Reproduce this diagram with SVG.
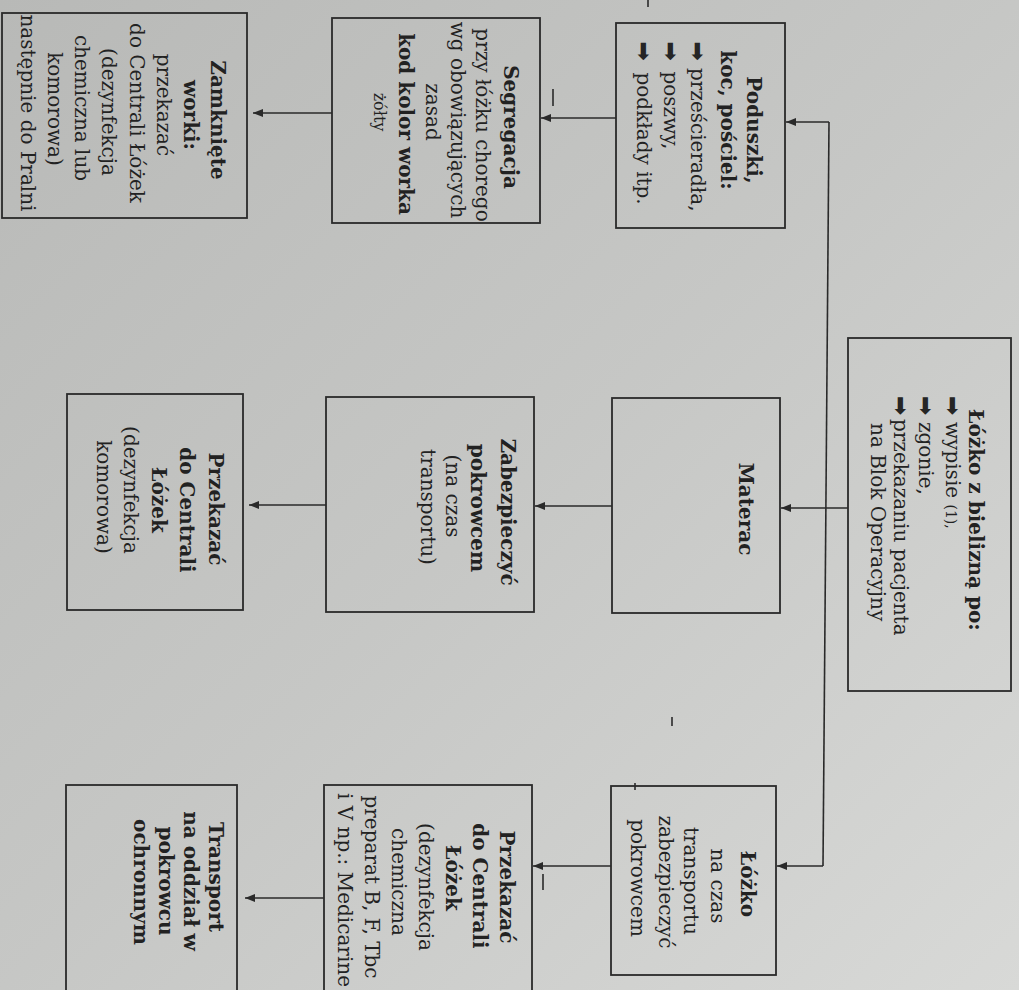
<svg xmlns="http://www.w3.org/2000/svg" width="1019" height="990" viewBox="0 0 1019 990">
<defs>
<linearGradient id="bg" x1="0" y1="0" x2="1" y2="1">
<stop offset="0" stop-color="#b8b9b7"/>
<stop offset="0.5" stop-color="#c6c7c5"/>
<stop offset="1" stop-color="#d8d9d7"/>
</linearGradient>
<marker id="ah" markerUnits="userSpaceOnUse" markerWidth="10" markerHeight="8" refX="10" refY="4" orient="auto">
<path d="M0,0 L10,4 L0,8 z" fill="#2a2a2a"/>
</marker>
<style>
.t{font-family:"DejaVu Serif","Liberation Serif",serif;font-size:20px;fill:#222;text-anchor:middle}
.s{font-family:"DejaVu Serif","Liberation Serif",serif;font-size:20px;fill:#222;text-anchor:start}
.b{font-weight:bold}
.sm{font-size:14px}
.sy{font-size:16px}
.bul{font-family:"DejaVu Sans",sans-serif;font-size:23px;fill:#252525;text-anchor:start}
.box{fill:none;stroke:#2a2a2a;stroke-width:1.8}
.con{fill:none;stroke:#2a2a2a;stroke-width:1.6}
.mk{stroke:#2a2a2a;stroke-width:1.6}
</style>
</defs>
<rect x="0" y="0" width="1019" height="990" fill="url(#bg)"/>

<g id="connectors">
<path class="con" d="M848,508 H781" marker-end="url(#ah)"/>
<path class="con" d="M829,122 L823,866"/>
<path class="con" d="M829,122 H786" marker-end="url(#ah)"/>
<path class="con" d="M823,866 H777" marker-end="url(#ah)"/>
<path class="con" d="M616,118 H541" marker-end="url(#ah)"/>
<path class="con" d="M332,113 H253" marker-end="url(#ah)"/>
<path class="con" d="M612,506 H535" marker-end="url(#ah)"/>
<path class="con" d="M326,505 H249" marker-end="url(#ah)"/>
<path class="con" d="M611,866 H533" marker-end="url(#ah)"/>
<path class="con" d="M324,898 H245" marker-end="url(#ah)"/>
</g>

<g id="marks">
<line class="mk" x1="648" y1="0" x2="648" y2="7"/>
<line class="mk" x1="553" y1="89" x2="553" y2="106"/>
<line class="mk" x1="672" y1="717" x2="672" y2="726"/>
<line class="mk" x1="543" y1="874" x2="543" y2="890"/>
<line class="mk" x1="635" y1="783" x2="635" y2="790"/>
</g>

<g id="node-lozko-bielizna">
<rect class="box" x="848" y="338" width="163" height="353"/>
<text class="t b" transform="translate(929.5,514) rotate(90)"><tspan x="6" y="-39.5">Łóżko z bielizną po:</tspan></text>
<text class="bul" transform="translate(929.5,514) rotate(90)"><tspan x="-118" y="-15.5">➡</tspan><tspan x="-118" y="11.5">➡</tspan><tspan x="-118" y="36.5">➡</tspan></text>
<text class="s" transform="translate(929.5,514) rotate(90)"><tspan x="-92" y="-16.5">wypisie <tspan class="sm">(1),</tspan></tspan><tspan x="-92" y="10.5">zgonie,</tspan><tspan x="-95" y="35.5">przekazaniu pacjenta</tspan><tspan x="-91" y="58.5">na Blok Operacyjny</tspan></text>
</g>

<g id="node-poduszki">
<rect class="box" x="616" y="23" width="169" height="205"/>
<text class="t b" transform="translate(700.5,125.5) rotate(90)"><tspan x="4.5" y="-46.5">Poduszki,</tspan><tspan x="-5.5" y="-20.5">koc, pościel:</tspan></text>
<text class="bul" transform="translate(700.5,125.5) rotate(90)"><tspan x="-84" y="10.5">➡</tspan><tspan x="-84" y="37.5">➡</tspan><tspan x="-84" y="64.5">➡</tspan></text>
<text class="s" transform="translate(700.5,125.5) rotate(90)"><tspan x="-57.5" y="9.5">prześcieradła,</tspan><tspan x="-54" y="36.5">poszwy,</tspan><tspan x="-53" y="63.5">podkłady itp.</tspan></text>
</g>

<g id="node-segregacja">
<rect class="box" x="332" y="18" width="208" height="205"/>
<text class="t" transform="translate(436,120.5) rotate(90)"><tspan class="b" x="6.5" y="-68">Segregacja</tspan><tspan x="4.5" y="-40">przy łóżku chorego</tspan><tspan x="-0.5" y="-15">wg obowiązujących</tspan><tspan x="-8.5" y="10">zasad</tspan><tspan class="b" x="3.5" y="37">kod kolor worka</tspan><tspan class="sy" x="-8.5" y="62">żółty</tspan></text>
</g>

<g id="node-zamkniete">
<rect class="box" x="2" y="13" width="245" height="205"/>
<text class="t" transform="translate(124.5,115.5) rotate(90)"><tspan class="b" x="4.5" y="-86.5">Zamknięte</tspan><tspan class="b" x="-0.5" y="-59.5">worki:</tspan><tspan x="-10.5" y="-32.5">przekazać</tspan><tspan x="-2.5" y="-5.5">do Centrali Łóżek</tspan><tspan x="-3.5" y="22.5">(dezynfekcja</tspan><tspan x="-7.5" y="49.5">chemiczna lub</tspan><tspan x="-6.5" y="76.5">komorowa)</tspan><tspan x="-2.5" y="103.5">następnie do Pralni</tspan></text>
</g>

<g id="node-materac">
<rect class="box" x="612" y="398" width="168" height="215"/>
<text class="t b" transform="translate(696,505.5) rotate(90)"><tspan x="3.5" y="-43">Materac</tspan></text>
</g>

<g id="node-zabezpieczyc">
<rect class="box" x="326" y="397" width="208" height="215"/>
<text class="t" transform="translate(430,504.5) rotate(90)"><tspan class="b" x="7.5" y="-71">Zabezpieczyć</tspan><tspan class="b" x="3.5" y="-41">pokrowcem</tspan><tspan x="-8.5" y="-16">(na czas</tspan><tspan x="2.5" y="9">transportu)</tspan></text>
</g>

<g id="node-przekazac-komorowa">
<rect class="box" x="67" y="394" width="176" height="216"/>
<text class="t" transform="translate(155,502) rotate(90)"><tspan class="b" x="7" y="-54">Przekazać</tspan><tspan class="b" x="8" y="-25">do Centrali</tspan><tspan class="b" x="-2" y="3">Łóżek</tspan><tspan x="-12" y="31">(dezynfekcja</tspan><tspan x="-5" y="58">komorowa)</tspan></text>
</g>

<g id="node-lozko-transport">
<rect class="box" x="611" y="786" width="165" height="189"/>
<text class="t" transform="translate(693.5,880.5) rotate(90)"><tspan class="b" x="3.5" y="-47.5">Łóżko</tspan><tspan x="5.5" y="-17.5">na czas</tspan><tspan x="0.5" y="9.5">transportu</tspan><tspan x="1.5" y="34.5">zabezpieczyć</tspan><tspan x="-2.5" y="62.5">pokrowcem</tspan></text>
</g>

<g id="node-przekazac-chemiczna">
<rect class="box" x="324" y="785" width="208" height="225"/>
<text class="t" transform="translate(428,887) rotate(90)"><tspan class="b" x="0" y="-72">Przekazać</tspan><tspan class="b" x="-1" y="-45">do Centrali</tspan><tspan class="b" x="-9" y="-18">Łóżek</tspan><tspan x="0" y="9">(dezynfekcja</tspan><tspan x="-5" y="36">chemiczna</tspan><tspan x="0" y="63">preparat B, F, Tbc</tspan></text>
<text class="s" transform="translate(428,887) rotate(90)"><tspan x="-94" y="90">i V np.: Medicarine</tspan></text>
</g>

<g id="node-transport">
<rect class="box" x="66" y="785" width="171" height="225"/>
<text class="t b" transform="translate(151,880) rotate(90)"><tspan x="-3" y="-58">Transport</tspan><tspan x="1" y="-33">na oddział w</tspan><tspan x="1" y="-8">pokrowcu</tspan><tspan x="2" y="17">ochronnym</tspan></text>
</g>
</svg>
